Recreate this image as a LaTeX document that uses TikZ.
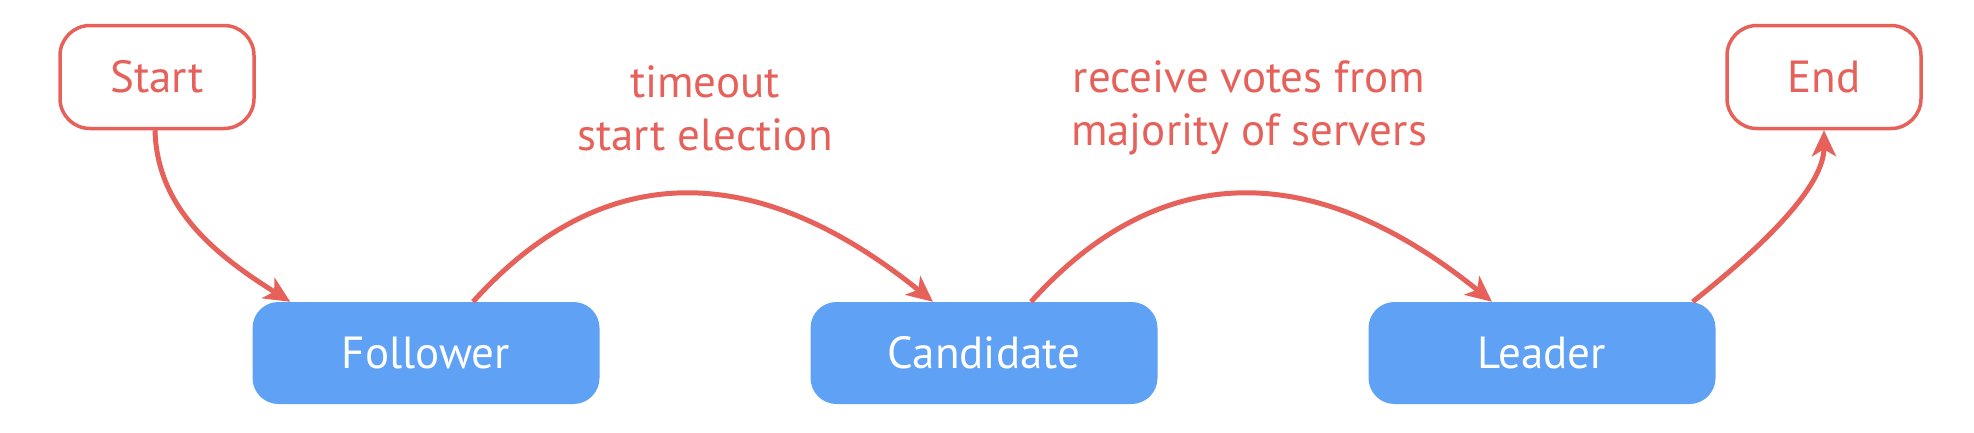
\documentclass[tikz,border=0pt]{standalone}
\usepackage{fontspec}
\setmainfont{PT Sans}
\usetikzlibrary{arrows.meta,calc}
\definecolor{rraft}{RGB}{230,97,90}
\definecolor{braft}{RGB}{94,161,245}
\begin{document}
\begin{tikzpicture}[x=1pt,y=-1pt,
  every node/.style={font=\fontsize{45}{53}\selectfont},
  termbox/.style={draw=rraft,line width=3.5pt,fill=white,rounded corners=30pt,
    minimum width=194pt,minimum height=103pt,inner sep=0pt,text=rraft},
  statebox/.style={fill=braft,rounded corners=26pt,minimum width=347pt,
    minimum height=102pt,inner sep=0pt,text=white},
  lbl/.style={text=rraft,align=center},
  conn/.style={draw=rraft,line width=5pt,
    -{Stealth[length=26pt,width=24pt,inset=7pt]}}]
\useasboundingbox (0,0) rectangle (1974,432);
\node[termbox] (start) at (157,77) {Start};
\node[termbox] (end) at (1824,77) {End};
\node[statebox] (follower) at (426,353) {Follower};
\node[statebox] (candidate) at (984,353) {Candidate};
\node[statebox] (leader) at (1542,353) {Leader};
\node[lbl] (l1) at (705,108) {timeout\\start election};
\node[lbl] (l2) at (1249,108) {receive votes from\\majority of servers};
\draw[conn] ($(start.south)+(-2,0)$) .. controls +(2,75) and +(-80,-50) .. ($(follower.north west)+(38,0)$);
\draw[conn] ($(follower.north)+(47,0)$) .. controls +(-48:200) and +(219:220) .. ($(candidate.north)+(-51,0)$);
\draw[conn] ($(candidate.north)+(47,0)$) .. controls +(-48:200) and +(219:220) .. ($(leader.north)+(-50,0)$);
\draw[conn] ($(leader.north east)+(-23,0)$) .. controls +(40,-32) and +(0,65) .. (end.south);
\end{tikzpicture}
\end{document}
